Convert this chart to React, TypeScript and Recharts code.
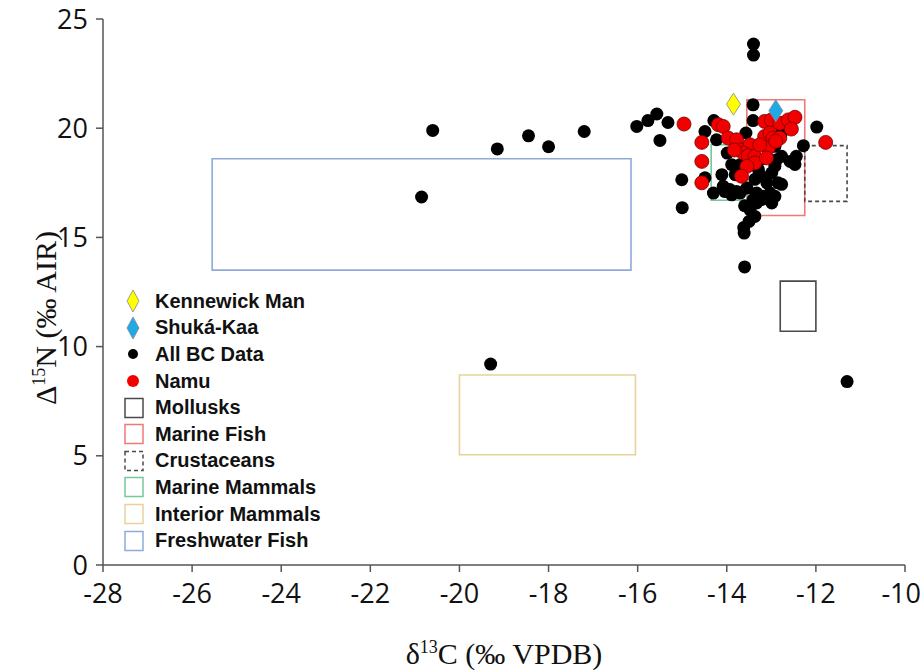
import { ScatterChart, Scatter, XAxis, YAxis, ReferenceArea } from "recharts"

// axis ticks
const xTicks = [-28, -26, -24, -22, -20, -18, -16, -14, -12, -10]
const yTicks = [0, 5, 10, 15, 20, 25]

// individual points, [δ13C, Δ15N]
const kennewickMan = [[-13.85, 21.1]]
const shukaKaa = [[-12.9, 20.8]]

const allBcData = [
    [-20.6, 19.9], [-20.85, 16.85], [-19.15, 19.05], [-18.45, 19.65], [-18.0, 19.15], [-17.2, 19.85],
    [-19.3, 9.2], [-11.3, 8.4], [-13.6, 13.65], [-13.4, 23.85], [-13.4, 23.35],
    [-16.02, 20.08], [-15.77, 20.35], [-15.57, 20.65], [-15.32, 20.26], [-15.5, 19.44], [-14.49, 19.85],
    [-15.01, 17.64], [-14.49, 17.73], [-15.0, 16.36], [-14.29, 20.35], [-14.23, 19.47], [-13.99, 18.86],
    [-13.89, 18.33], [-13.57, 19.78], [-13.41, 21.07], [-13.41, 20.35], [-14.11, 17.87], [-14.3, 17.03],
    [-14.08, 17.34], [-13.93, 17.19], [-13.78, 17.1], [-13.55, 17.26], [-13.29, 18.11], [-13.22, 17.8],
    [-13.1, 17.5], [-13.33, 17.03], [-13.18, 16.88], [-13.03, 17.03], [-12.92, 16.88], [-13.48, 16.27],
    [-13.37, 15.96], [-13.62, 15.45], [-13.61, 15.2], [-13.5, 15.73], [-12.77, 19.78], [-12.92, 19.17],
    [-12.77, 18.71], [-12.92, 18.26], [-12.47, 18.34], [-12.85, 17.5], [-12.77, 17.43], [-12.28, 19.2],
    [-11.98, 20.05], [-14.04, 17.1], [-13.89, 16.95], [-13.7, 17.03], [-13.41, 16.73], [-13.22, 16.73],
    [-13.37, 17.66], [-12.99, 17.96], [-13.33, 16.58], [-13.6, 16.45], [-12.58, 18.48], [-12.88, 18.56],
    [-12.99, 16.58], [-13.7, 18.33], [-13.25, 18.56], [-13.81, 17.87], [-12.44, 18.71],
]

const namu = [
    [-14.96, 20.19], [-14.56, 19.35], [-14.56, 18.48], [-14.56, 17.5], [-14.19, 20.16], [-14.08, 20.08],
    [-13.97, 19.55], [-13.78, 19.47], [-13.7, 19.01], [-13.48, 19.24], [-13.63, 18.86], [-13.52, 18.74],
    [-13.37, 18.71], [-13.37, 18.41], [-13.55, 18.25], [-13.67, 17.8], [-13.15, 20.31], [-13.0, 20.38],
    [-12.81, 20.23], [-12.62, 20.38], [-12.47, 20.5], [-12.55, 19.96], [-13.15, 19.62], [-13.03, 19.78],
    [-12.96, 19.55], [-12.81, 19.55], [-13.07, 19.09], [-13.11, 18.64], [-11.78, 19.35], [-13.83, 19.0],
    [-13.26, 19.24], [-12.9, 19.4],
]

// food source ranges
const boxNames = ["Mollusks", "Marine Fish", "Crustaceans", "Marine Mammals", "Interior Mammals", "Freshwater Fish"]
const boxX = [[-12.8, -12.0], [-13.55, -12.25], [-12.25, -11.3], [-14.35, -13.55], [-20.0, -16.05], [-25.55, -16.15]]
const boxY = [[10.7, 13.0], [16.0, 21.3], [16.65, 19.2], [16.7, 19.25], [5.05, 8.7], [13.5, 18.6]]

const boxColors: Record<string, string> = {
    "Mollusks": "#4a4a4a",
    "Marine Fish": "#f27777",
    "Crustaceans": "#4a4a4a",
    "Marine Mammals": "#74c99a",
    "Interior Mammals": "#e8d29c",
    "Freshwater Fish": "#8eaadb",
}
const boxDash: Record<string, string | undefined> = { "Crustaceans": "4 3" }

const toPoints = (arr: number[][]) => arr.map(([x, y]) => ({ x, y }))

const tickFont = "'Open Sans', 'Liberation Sans', sans-serif"
const labelFont = "'Liberation Serif', 'DejaVu Serif', serif"
const legendFont = "'Liberation Sans', Arial, sans-serif"

const BlackDot = (p: any) => <circle cx={p.cx} cy={p.cy} r={6.5} fill="#000" />
const RedDot = (p: any) => <circle cx={p.cx} cy={p.cy} r={7} fill="#f20000" stroke="#7a0000" strokeWidth={0.8} />
const makeDiamond = (fill: string) => (p: any) => (
    <polygon
        points={`${p.cx},${p.cy - 11} ${p.cx + 7},${p.cy} ${p.cx},${p.cy + 11} ${p.cx - 7},${p.cy}`}
        fill={fill}
        stroke="#888"
        strokeWidth={0.8}
    />
)

// last x tick would be clipped by the page edge, so keep it inside
const XTick = ({ x, y, payload }: any) => {
    const last = payload.value === xTicks[xTicks.length - 1]
    return (
        <text x={last ? x + 16 : x} y={y} dy="0.71em" textAnchor={last ? "end" : "middle"}
            fill="#111" fontSize={27} fontFamily={tickFont}>
            {payload.value}
        </text>
    )
}

const XLabel = ({ viewBox }: any) => {
    const cx = viewBox.x + viewBox.width / 2
    return (
        <text x={cx} y={viewBox.y + 99} textAnchor="middle" fontFamily={labelFont} fontSize={30} fill="#111">
            δ<tspan fontSize={18} dy={-11}>13</tspan><tspan dy={11}>C (‰ VPDB)</tspan>
        </text>
    )
}

const YLabel = ({ viewBox }: any) => {
    const cx = 56
    const cy = viewBox.y + viewBox.height / 2 + 26
    return (
        <text x={cx} y={cy} transform={`rotate(-90, ${cx}, ${cy})`} textAnchor="middle" fontFamily={labelFont} fontSize={30} fill="#111">
            Δ<tspan fontSize={18} dy={-11}>15</tspan><tspan dy={11}>N (‰ AIR)</tspan>
        </text>
    )
}

const legendRows = [
    { name: "Kennewick Man", kind: "diamond", color: "#ffff00" },
    { name: "Shuká-Kaa", kind: "diamond", color: "#1eaae8" },
    { name: "All BC Data", kind: "dot", color: "#000" },
    { name: "Namu", kind: "dot", color: "#f20000" },
    ...boxNames.map((n) => ({ name: n, kind: "box", color: boxColors[n] })),
]

const ChartLegend = () => (
    <div style={{ position: "absolute", left: 118, top: 288, fontFamily: legendFont, fontWeight: 700, fontSize: 20, color: "#111" }}>
        {legendRows.map((r) => (
            <div key={r.name} style={{ display: "flex", alignItems: "center", height: 26.6 }}>
                <svg width={37} height={26} style={{ flex: "none" }}>
                    {r.kind === "diamond" && (
                        <polygon points="15,2 21,13 15,24 9,13" fill={r.color} stroke="#888" strokeWidth={0.8} />
                    )}
                    {r.kind === "dot" && <circle cx={15} cy={13} r={r.color === "#000" ? 5 : 6} fill={r.color} />}
                    {r.kind === "box" && (
                        <rect x={7} y={3.5} width={18} height={19} fill="none" stroke={r.color}
                            strokeWidth={1.5} strokeDasharray={boxDash[r.name]} />
                    )}
                </svg>
                <span>{r.name}</span>
            </div>
        ))}
    </div>
)

export default function App() {
    return (
        <div style={{ position: "relative", width: 922, height: 671, background: "#fff" }}>
            <style>{`body{margin:0}`}</style>
            <ScatterChart width={922} height={671} margin={{ top: 19, right: 17, left: 0, bottom: 0 }}>
                {boxNames.map((n, i) => (
                    <ReferenceArea
                        key={n}
                        x1={boxX[i][0]}
                        x2={boxX[i][1]}
                        y1={boxY[i][0]}
                        y2={boxY[i][1]}
                        fill="none"
                        fillOpacity={0}
                        stroke={boxColors[n]}
                        strokeWidth={1.6}
                        strokeDasharray={boxDash[n]}
                        ifOverflow="visible"
                    />
                ))}
                <XAxis
                    type="number"
                    dataKey="x"
                    domain={[-28, -10]}
                    ticks={xTicks}
                    interval={0}
                    height={106}
                    stroke="#555"
                    strokeWidth={1.5}
                    tickSize={7}
                    tickMargin={12}
                    tick={<XTick />}
                    label={<XLabel />}
                />
                <YAxis
                    type="number"
                    dataKey="y"
                    domain={[0, 25]}
                    ticks={yTicks}
                    interval={0}
                    width={103}
                    stroke="#555"
                    strokeWidth={1.5}
                    tickSize={7}
                    tickMargin={8}
                    tick={{ fill: "#111", fontSize: 27, fontFamily: tickFont }}
                    label={<YLabel />}
                />
                <Scatter name="All BC Data" data={toPoints(allBcData)} shape={BlackDot} isAnimationActive={false} />
                <Scatter name="Namu" data={toPoints(namu)} shape={RedDot} isAnimationActive={false} />
                <Scatter name="Kennewick Man" data={toPoints(kennewickMan)} shape={makeDiamond("#ffff00")} isAnimationActive={false} />
                <Scatter name="Shuká-Kaa" data={toPoints(shukaKaa)} shape={makeDiamond("#1eaae8")} isAnimationActive={false} />
            </ScatterChart>
            <ChartLegend />
        </div>
    )
}
